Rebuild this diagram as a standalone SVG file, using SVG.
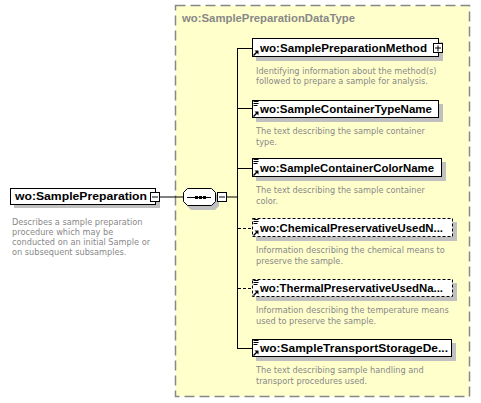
<svg xmlns="http://www.w3.org/2000/svg" width="481" height="403" viewBox="0 0 481 403">
<defs>
<style>
.bg{fill:#FFFFCC;stroke:#888;stroke-width:1.5;stroke-dasharray:10,5}
.title{font-family:"Liberation Sans",Arial,sans-serif;font-weight:bold;font-size:11.5px;fill:#888}
.box{fill:#fff;stroke:#000;stroke-width:1}
.opt{fill:#fff;stroke:#000;stroke-width:1;stroke-dasharray:3,2}
.sh{fill:#C0C0C0}
.name{font-family:"Liberation Sans",Arial,sans-serif;font-weight:bold;font-size:11.5px;fill:#000}
.desc{font-family:"DejaVu Sans",Verdana,sans-serif;font-size:8.2px;fill:#888}
.ln{stroke:#000;stroke-width:1;fill:none}
.dln{stroke:#000;stroke-width:1;fill:none;stroke-dasharray:3,2}
</style>
<g id="lines-icon">
<path d="M0.5 0.5h5M0.5 2.5h5M0.5 4.5h4" stroke="#000" stroke-width="1" fill="none"/>
</g>
<g id="ref-icon">
<path d="M0.5 5.5L4.5 1.5" stroke="#000" stroke-width="1.5" fill="none"/>
<path d="M1.5 0.5h4v4z" fill="#000"/>
</g>
</defs>
<rect x="0" y="0" width="481" height="403" fill="#fff"/>
<rect class="bg" x="175.5" y="5.5" width="294" height="391"/>
<text class="title" x="182" y="22" textLength="173" lengthAdjust="spacingAndGlyphs">wo:SamplePreparationDataType</text>

<g id="connectors">
<path class="ln" d="M160 197H183"/>
<path class="ln" d="M227 197H237"/>
<path class="ln" d="M237.5 48V348"/>
<path class="ln" d="M237 48.5H252"/>
<path class="ln" d="M237 108.5H252"/>
<path class="ln" d="M237 168.5H252"/>
<path class="dln" d="M238 228.5H252"/>
<path class="dln" d="M238 288.5H252"/>
<path class="ln" d="M237 348.5H252"/>
</g>

<g id="node-SamplePreparation">
<rect class="sh" x="14" y="192" width="146" height="16"/>
<rect class="box" x="10.5" y="188.5" width="145" height="16"/>
<text class="name" x="15" y="200" textLength="132" lengthAdjust="spacingAndGlyphs">wo:SamplePreparation</text>
<rect class="box" x="150.5" y="192.5" width="9" height="9"/>
<path class="ln" d="M152 197h6"/>
<text class="desc" x="12" y="225">Describes a sample preparation</text>
<text class="desc" x="12" y="235">procedure which may be</text>
<text class="desc" x="12" y="245">conducted on an initial Sample or</text>
<text class="desc" x="12" y="255">on subsequent subsamples.</text>
</g>

<g id="node-sequence">
<path class="sh" d="M191 193h24l4 4v9l-4 4h-24l-4-4v-9z"/>
<path class="box" d="M187.5 188.5h24l4 4v9l-4 4h-24l-4-4v-9z"/>
<path class="ln" d="M187 197.5H211"/>
<rect x="195" y="196" width="3" height="3" fill="#000"/>
<rect x="199" y="196" width="3" height="3" fill="#000"/>
<rect x="203" y="196" width="3" height="3" fill="#000"/>
<rect class="box" x="217.5" y="192.5" width="9" height="9"/>
<path class="ln" d="M219 197h6"/>
</g>

<g id="node-SamplePreparationMethod">
<rect class="sh" x="256" y="42" width="187" height="19"/>
<rect class="box" x="252.5" y="38.5" width="186" height="18"/>
<use href="#ref-icon" x="253" y="50"/>
<text class="name" x="260" y="52" textLength="167" lengthAdjust="spacingAndGlyphs">wo:SamplePreparationMethod</text>
<rect class="box" x="433.5" y="43.5" width="9" height="9"/>
<path class="ln" d="M435 48h6M438 45.5v6"/>
<text class="desc" x="256" y="74">Identifying information about the method(s)</text>
<text class="desc" x="256" y="84">followed to prepare a sample for analysis.</text>
</g>

<g id="node-SampleContainerTypeName">
<rect class="sh" x="256" y="104" width="187" height="18"/>
<rect class="box" x="252.5" y="100.5" width="186" height="17"/>
<use href="#lines-icon" x="253" y="101"/>
<use href="#ref-icon" x="253" y="111"/>
<text class="name" x="260" y="113" textLength="172" lengthAdjust="spacingAndGlyphs">wo:SampleContainerTypeName</text>
<text class="desc" x="256" y="134">The text describing the sample container</text>
<text class="desc" x="256" y="145">type.</text>
</g>

<g id="node-SampleContainerColorName">
<rect class="sh" x="256" y="162" width="190" height="19"/>
<rect class="box" x="252.5" y="158.5" width="189" height="18"/>
<use href="#lines-icon" x="253" y="159"/>
<use href="#ref-icon" x="253" y="170"/>
<text class="name" x="260" y="172" textLength="174" lengthAdjust="spacingAndGlyphs">wo:SampleContainerColorName</text>
<text class="desc" x="256" y="193">The text describing the sample container</text>
<text class="desc" x="256" y="204">color.</text>
</g>

<g id="node-ChemicalPreservativeUsedName">
<rect class="sh" x="256" y="222" width="201" height="19"/>
<rect class="opt" x="252.5" y="218.5" width="200" height="18"/>
<use href="#lines-icon" x="253" y="219"/>
<use href="#ref-icon" x="253" y="230"/>
<text class="name" x="260" y="232" textLength="183" lengthAdjust="spacingAndGlyphs">wo:ChemicalPreservativeUsedN...</text>
<text class="desc" x="256" y="253">Information describing the chemical means to</text>
<text class="desc" x="256" y="264">preserve the sample.</text>
</g>

<g id="node-ThermalPreservativeUsedName">
<rect class="sh" x="256" y="283" width="201" height="18"/>
<rect class="opt" x="252.5" y="279.5" width="200" height="17"/>
<use href="#lines-icon" x="253" y="280"/>
<use href="#ref-icon" x="253" y="290"/>
<text class="name" x="260" y="292" textLength="183" lengthAdjust="spacingAndGlyphs">wo:ThermalPreservativeUsedNa...</text>
<text class="desc" x="256" y="313">Information describing the temperature means</text>
<text class="desc" x="256" y="324">used to preserve the sample.</text>
</g>

<g id="node-SampleTransportStorageDescription">
<rect class="sh" x="256" y="343" width="200" height="18"/>
<rect class="box" x="252.5" y="339.5" width="199" height="17"/>
<use href="#lines-icon" x="253" y="340"/>
<use href="#ref-icon" x="253" y="350"/>
<text class="name" x="260" y="352" textLength="188" lengthAdjust="spacingAndGlyphs">wo:SampleTransportStorageDe...</text>
<text class="desc" x="256" y="373">The text describing sample handling and</text>
<text class="desc" x="256" y="384">transport procedures used.</text>
</g>
</svg>
